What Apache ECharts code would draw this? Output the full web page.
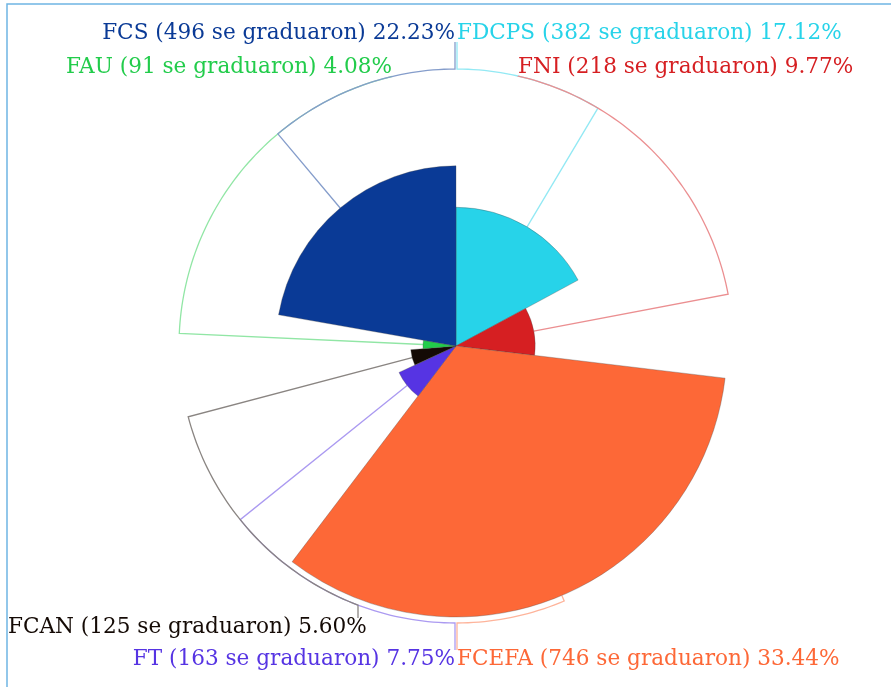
<!DOCTYPE html>
<html>
<head>
<meta charset="utf-8">
<script src="https://cdn.jsdelivr.net/npm/echarts@6/dist/echarts.min.js"></script>
<style>
html, body { margin: 0; padding: 0; background: #fff; }
#main { width: 891px; height: 687px; }
</style>
</head>
<body>
<div id="main"></div>
<script>
var facultades = ['FDCPS', 'FNI', 'FCEFA', 'FT', 'FCAN', 'FAU', 'FCS'];
var graduados = [382, 218, 746, 163, 125, 91, 496];
var porcentajes = [17.12, 9.77, 33.44, 7.75, 5.60, 4.08, 22.23];
var colores = ['#27d3e9', '#d61f22', '#fd6837', '#5634e3', '#140a05', '#22cc4b', '#0a3a96'];

var cx = 456, cy = 346, rMax = 271, rLinea = 277;
// label placement: text x, text middle y, align, x where the guide line meets it
var etiquetas = [
    [457, 33, 'left', 457],
    [518, 67, 'left', 518],
    [457, 659, 'left', 457],
    [455, 659, 'right', 455],
    [8, 627, 'left', 358],
    [392, 67, 'right', 392],
    [455, 33, 'right', 455]
];

var myChart = echarts.init(document.getElementById('main'));

// half-way to white, for the guide lines
function aclarar(hex, k) {
    var n = parseInt(hex.slice(1), 16);
    var r = n >> 16, g = (n >> 8) & 255, b = n & 255;
    r = Math.round(r + (255 - r) * k);
    g = Math.round(g + (255 - g) * k);
    b = Math.round(b + (255 - b) * k);
    return 'rgb(' + r + ',' + g + ',' + b + ')';
}

function colocarEtiqueta(params) {
    var e = etiquetas[params.dataIndex];
    var p0 = params.labelLinePoints[0];
    var a0 = Math.atan2(p0[1] - cy, p0[0] - cx);
    var arriba = e[1] < cy;
    var dx = e[3] - cx;
    var ty = cy + (arriba ? -1 : 1) * Math.sqrt(rLinea * rLinea - dx * dx);
    var a1 = Math.atan2(ty - cy, dx);
    var d = a1 - a0;
    while (d > Math.PI) d -= 2 * Math.PI;
    while (d < -Math.PI) d += 2 * Math.PI;
    var pts = [[p0[0], p0[1]]];
    var n = Math.max(2, Math.ceil(Math.abs(d) / 0.02));
    for (var i = 0; i <= n; i++) {
        var a = a0 + d * i / n;
        pts.push([cx + rLinea * Math.cos(a), cy + rLinea * Math.sin(a)]);
    }
    pts.push([e[3], e[1] + (arriba ? 9 : -9)]);
    return {
        x: e[0],
        y: e[1],
        align: e[2],
        verticalAlign: 'middle',
        labelLinePoints: pts
    };
}

var datos = facultades.map(function (f, i) {
    return {
        name: f,
        value: porcentajes[i],
        itemStyle: { color: colores[i] },
        label: { color: colores[i] },
        labelLine: { lineStyle: { color: aclarar(colores[i], 0.5) } }
    };
});

var option = {
    animation: false,
    backgroundColor: '#fff',
    graphic: [{
        type: 'rect',
        shape: { x: 7, y: 4, width: 1000, height: 1000 },
        style: { fill: null, stroke: '#6fb5e3', lineWidth: 1.5 },
        z: 100
    }],
    series: [{
        type: 'pie',
        roseType: 'radius',
        center: [cx, cy],
        radius: [0, rMax],
        startAngle: 90,
        clockwise: true,
        avoidLabelOverlap: false,
        itemStyle: {
            borderColor: 'rgba(70,70,70,0.45)',
            borderWidth: 0.7
        },
        label: {
            show: true,
            position: 'outside',
            fontFamily: 'DejaVu Serif',
            fontSize: 21.6,
            formatter: function (p) {
                return p.name + ' (' + graduados[p.dataIndex] + ' se graduaron) ' +
                    porcentajes[p.dataIndex].toFixed(2) + '%';
            }
        },
        labelLine: {
            show: true,
            smooth: false,
            length: 10,
            length2: 10,
            lineStyle: { width: 1.3 }
        },
        labelLayout: colocarEtiqueta,
        data: datos
    }]
};
myChart.setOption(option);
</script>
</body>
</html>
